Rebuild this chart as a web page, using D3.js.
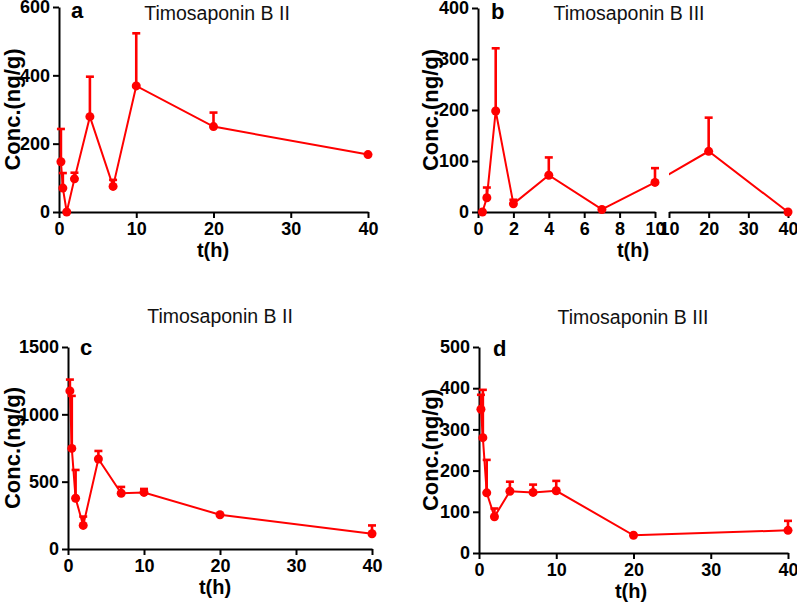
<!DOCTYPE html>
<html>
<head>
<meta charset="utf-8">
<script src="https://cdn.jsdelivr.net/npm/d3@7"></script>
<style>
  html, body { margin: 0; padding: 0; background: #fff; }
  svg { display: block; font-family: "Liberation Sans", Arial, sans-serif; }
</style>
</head>
<body>
<svg id="chart" width="797" height="603"></svg>
<script>
// ---------- data ----------
const times = [0.25, 0.5, 1, 2, 4, 7, 10, 20, 40];

const meanA = [147, 70, 0, 97, 279, 75, 369, 250, 168];
const sdA   = [96, 44, 0, 18, 117, 19, 154, 41, 0];

const meanB = [0, 28, 198, 16, 72, 5, 58, 119, 0];
const sdB   = [0, 20, 123, 8, 35, 0, 28, 66, 0];

const meanC = [1174, 747, 377, 175, 668, 414, 420, 254, 113];
const sdC   = [84, 390, 210, 66, 60, 47, 26, 0, 62];

const meanD = [349, 280, 146, 88, 150, 147, 151, 43, 55];
const sdD   = [35, 116, 80, 20, 23, 19, 24, 0, 23];

const titles  = ["Timosaponin B II", "Timosaponin B III", "Timosaponin B II", "Timosaponin B III"];
const letters = ["a", "b", "c", "d"];

const yTicksA = [0, 200, 400, 600];
const yTicksB = [0, 100, 200, 300, 400];
const yTicksC = [0, 500, 1000, 1500];
const yTicksD = [0, 100, 200, 300, 400, 500];
const xTicks  = [0, 10, 20, 30, 40];
const xTicksB1 = [0, 2, 4, 6, 8, 10];
const xTicksB2 = [10, 20, 30, 40];

const xLabel = "t(h)";
const yLabel = "Conc.(ng/g)";

// ---------- drawing ----------
const RED = "#ff0000";
const svg = d3.select("#chart");
const fmt = d3.format("d");

function rows(mean, sd) {
  return times.map((t, i) => ({ t, m: mean[i], sd: sd[i] }));
}

function styleAxis(g) {
  g.select(".domain").attr("stroke", "#000").attr("stroke-width", 2);
  g.selectAll(".tick line").attr("stroke", "#000").attr("stroke-width", 2);
  g.selectAll(".tick text").attr("fill", "#000").attr("font-size", 18).attr("font-weight", "bold")
    .attr("font-family", "Liberation Sans, Arial, sans-serif");
}

function drawPanel(p) {
  const g = svg.append("g");
  const y = d3.scaleLinear().domain([0, p.yMax]).range([p.yB, p.yT]);

  // y axis
  const ya = g.append("g").attr("transform", `translate(${p.x0},0)`)
    .call(d3.axisLeft(y).tickValues(p.yTicks).tickFormat(fmt).tickSize(6).tickPadding(3).tickSizeOuter(0));
  styleAxis(ya);

  // x axis (one or two segments)
  p.xSegs.forEach(s => {
    const xa = g.append("g").attr("transform", `translate(0,${p.yB})`)
      .call(d3.axisBottom(s.scale).tickValues(s.ticks).tickFormat(fmt).tickSize(6).tickPadding(4).tickSizeOuter(0));
    styleAxis(xa);
  });

  const xpos = d => p.xf(d.t);
  const data = rows(p.mean, p.sd);

  // clip for broken axis line
  let clipId = null;
  if (p.gap) {
    clipId = "clip" + p.letter;
    const cp = g.append("clipPath").attr("id", clipId);
    cp.append("rect").attr("x", 0).attr("y", 0).attr("width", p.gap[0]).attr("height", 603);
    cp.append("rect").attr("x", p.gap[1]).attr("y", 0).attr("width", 797 - p.gap[1]).attr("height", 603);
  }

  const line = d3.line().x(xpos).y(d => y(d.m));
  const path = g.append("path").datum(data)
    .attr("d", line).attr("fill", "none").attr("stroke", RED).attr("stroke-width", 2);
  if (clipId) path.attr("clip-path", `url(#${clipId})`);

  // error bars (upper only)
  const eb = g.selectAll(".eb").data(data.filter(d => d.sd > 0)).enter().append("g");
  eb.append("line")
    .attr("x1", xpos).attr("x2", xpos)
    .attr("y1", d => y(d.m)).attr("y2", d => y(d.m + d.sd))
    .attr("stroke", RED).attr("stroke-width", 2.6);
  eb.append("line")
    .attr("x1", d => xpos(d) - 4).attr("x2", d => xpos(d) + 4)
    .attr("y1", d => y(d.m + d.sd)).attr("y2", d => y(d.m + d.sd))
    .attr("stroke", RED).attr("stroke-width", 2.6);

  // points
  g.selectAll(".pt").data(data).enter().append("circle")
    .attr("cx", xpos).attr("cy", d => y(d.m)).attr("r", 4.5).attr("fill", RED);

  // titles & labels
  g.append("text").attr("x", p.titleX).attr("y", p.titleY).attr("text-anchor", "middle")
    .attr("font-size", 19.5).attr("fill", "#111").text(p.title);
  g.append("text").attr("x", p.letterX).attr("y", p.letterY)
    .attr("font-size", 22).attr("font-weight", "bold").attr("fill", "#000").text(p.letter);
  g.append("text").attr("x", p.xLabX).attr("y", p.yB + 45).attr("text-anchor", "middle")
    .attr("font-size", 20).attr("font-weight", "bold").attr("fill", "#000").text(xLabel);
  g.append("text").attr("transform", `translate(${p.yLabX},${(p.yT + p.yB) / 2}) rotate(-90)`)
    .attr("text-anchor", "middle")
    .attr("font-size", 22).attr("font-weight", "bold").attr("fill", "#000").text(yLabel);
}

// panel a
{
  const x = d3.scaleLinear().domain([0, 40]).range([59, 368]);
  drawPanel({ letter: letters[0], title: titles[0], mean: meanA, sd: sdA, yMax: 600, yTicks: yTicksA,
    x0: 59, yT: 7, yB: 212, xf: x, xSegs: [{ scale: x, ticks: xTicks }],
    titleX: 217, titleY: 20, letterX: 71, letterY: 18, xLabX: 213, yLabX: 20 });
}
// panel b (broken x axis)
{
  const x1 = d3.scaleLinear().domain([0, 10]).range([478, 655]);
  const x2 = d3.scaleLinear().domain([10, 40]).range([669, 788]);
  const xf = t => (t <= 10 ? x1(t) : x2(t));
  drawPanel({ letter: letters[1], title: titles[1], mean: meanB, sd: sdB, yMax: 400, yTicks: yTicksB,
    x0: 478, yT: 8, yB: 212, xf, xSegs: [{ scale: x1, ticks: xTicksB1 }, { scale: x2, ticks: xTicksB2 }],
    gap: [655, 669],
    titleX: 629, titleY: 20, letterX: 491, letterY: 19, xLabX: 633, yLabX: 438 });
}
// panel c
{
  const x = d3.scaleLinear().domain([0, 40]).range([68, 372]);
  drawPanel({ letter: letters[2], title: titles[2], mean: meanC, sd: sdC, yMax: 1500, yTicks: yTicksC,
    x0: 68, yT: 347, yB: 549, xf: x, xSegs: [{ scale: x, ticks: xTicks }],
    titleX: 220, titleY: 323, letterX: 80, letterY: 355, xLabX: 215, yLabX: 20 });
}
// panel d
{
  const x = d3.scaleLinear().domain([0, 40]).range([479, 788]);
  drawPanel({ letter: letters[3], title: titles[3], mean: meanD, sd: sdD, yMax: 500, yTicks: yTicksD,
    x0: 479, yT: 347, yB: 553, xf: x, xSegs: [{ scale: x, ticks: xTicks }],
    titleX: 633, titleY: 324, letterX: 493, letterY: 356, xLabX: 631, yLabX: 438 });
}
</script>
</body>
</html>
